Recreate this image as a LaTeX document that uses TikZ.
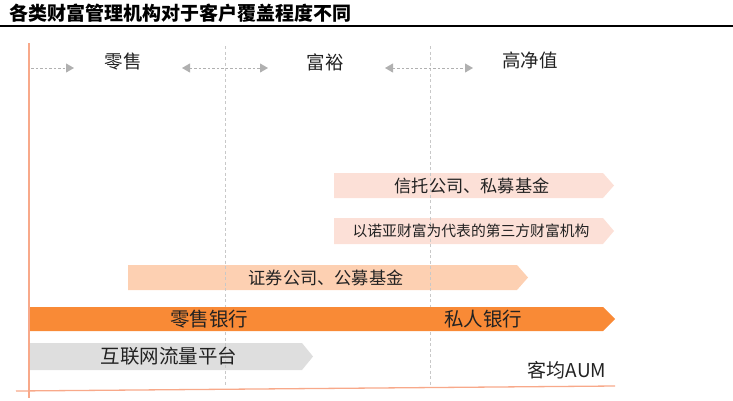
\documentclass[tikz,border=0pt]{standalone}
\usepackage{fontspec}
\setmainfont{Noto Sans CJK SC}
\usetikzlibrary{arrows.meta}
\definecolor{axisc}{HTML}{F8A98A}
\definecolor{orangec}{HTML}{F98A36}
\definecolor{peachc}{HTML}{FDD0B2}
\definecolor{pinkc}{HTML}{FCE0D7}
\definecolor{grayc}{HTML}{DEDEDE}
\definecolor{dashc}{HTML}{C8C8C8}
\definecolor{arrc}{HTML}{B0B0B0}
\definecolor{txtc}{HTML}{222222}
\tikzset{
  lbl/.style={text=txtc, inner sep=0pt, anchor=center},
  guide/.style={draw=dashc, line width=0.9pt, dash pattern=on 3pt off 2.5pt},
  zonearrow/.style={draw=arrc, line width=0.9pt, dash pattern=on 2.5pt off 2pt,
    -{Triangle[length=8pt,width=9pt,fill=arrc]}},
  zonearrows/.style={draw=arrc, line width=0.9pt, dash pattern=on 2.5pt off 2pt,
    {Triangle[length=8pt,width=9pt,fill=arrc]}-{Triangle[length=8pt,width=9pt,fill=arrc]}},
}
\begin{document}
\begin{tikzpicture}[x=1pt,y=-1pt]
\useasboundingbox (0,0) rectangle (733,400);
% title
\node[anchor=west, inner sep=0pt, font=\bfseries\fontsize{19}{21}\selectfont] (title) at (9,13) {各类财富管理机构对于客户覆盖程度不同};
\draw[line width=1.2pt, black] (0,26) -- (733,26);
% bars (light)
\fill[pinkc] (334,173) -- (603,173) -- (614,185.5) -- (603,198) -- (334,198) -- cycle;
\fill[pinkc] (334,218) -- (603,218) -- (614,231) -- (603,244) -- (334,244) -- cycle;
\fill[peachc] (128,265) -- (517,265) -- (528,277.5) -- (517,290) -- (128,290) -- cycle;
\fill[grayc] (30,343) -- (302,343) -- (313,356.5) -- (302,370) -- (30,370) -- cycle;
% guides
\coordinate (g1t) at (225,46); \coordinate (g1b) at (225,386);
\coordinate (g2t) at (430,46); \coordinate (g2b) at (430,386);
\draw[guide] (g1t) -- (g1b);
\draw[guide] (g2t) -- (g2b);
% orange bar
\fill[orangec] (30,307) -- (603,307) -- (615,319) -- (603,331) -- (30,331) -- cycle;
% axes
\coordinate (ax1) at (29,43); \coordinate (ax2) at (29,398);
\coordinate (ay1) at (16,391); \coordinate (ay2) at (615,386);
\draw[axisc, line width=1.3pt] (ax1) -- (ax2);
\draw[axisc, line width=1.3pt] (ay1) -- (ay2);
% zone labels
\node[lbl, font=\fontsize{18.5}{20}\selectfont] (z1) at (123,62) {零售};
\node[lbl, font=\fontsize{18.5}{20}\selectfont] (z2) at (325,62) {富裕};
\node[lbl, font=\fontsize{18.5}{20}\selectfont] (z3) at (530,60) {高净值};
\coordinate (a1s) at (31,68); \coordinate (a1e) at (74,68);
\coordinate (a2s) at (182,68); \coordinate (a2e) at (268,68);
\coordinate (a3s) at (385,68); \coordinate (a3e) at (473,68);
\draw[zonearrow] (a1s) -- (a1e);
\draw[zonearrows] (a2s) -- (a2e);
\draw[zonearrows] (a3s) -- (a3e);
% bar texts
\node[lbl, font=\fontsize{17.2}{18}\selectfont] (b1) at (472,185.5) {信托公司、私募基金};
\node[lbl, font=\fontsize{14.8}{16}\selectfont] (b2) at (471,231) {以诺亚财富为代表的第三方财富机构};
\node[lbl, font=\fontsize{17.2}{18}\selectfont] (b3) at (326,277.5) {证券公司、公募基金};
\node[lbl, font=\fontsize{19.5}{20}\selectfont] (b4) at (209,319) {零售银行};
\node[lbl, font=\fontsize{19.5}{20}\selectfont] (b5) at (483,319) {私人银行};
\node[lbl, font=\fontsize{19.5}{20}\selectfont] (b6) at (169,356.5) {互联网流量平台};
\node[lbl, font=\fontsize{19}{20}\selectfont] (aum) at (567,370) {客均AUM};
\end{tikzpicture}
\end{document}
